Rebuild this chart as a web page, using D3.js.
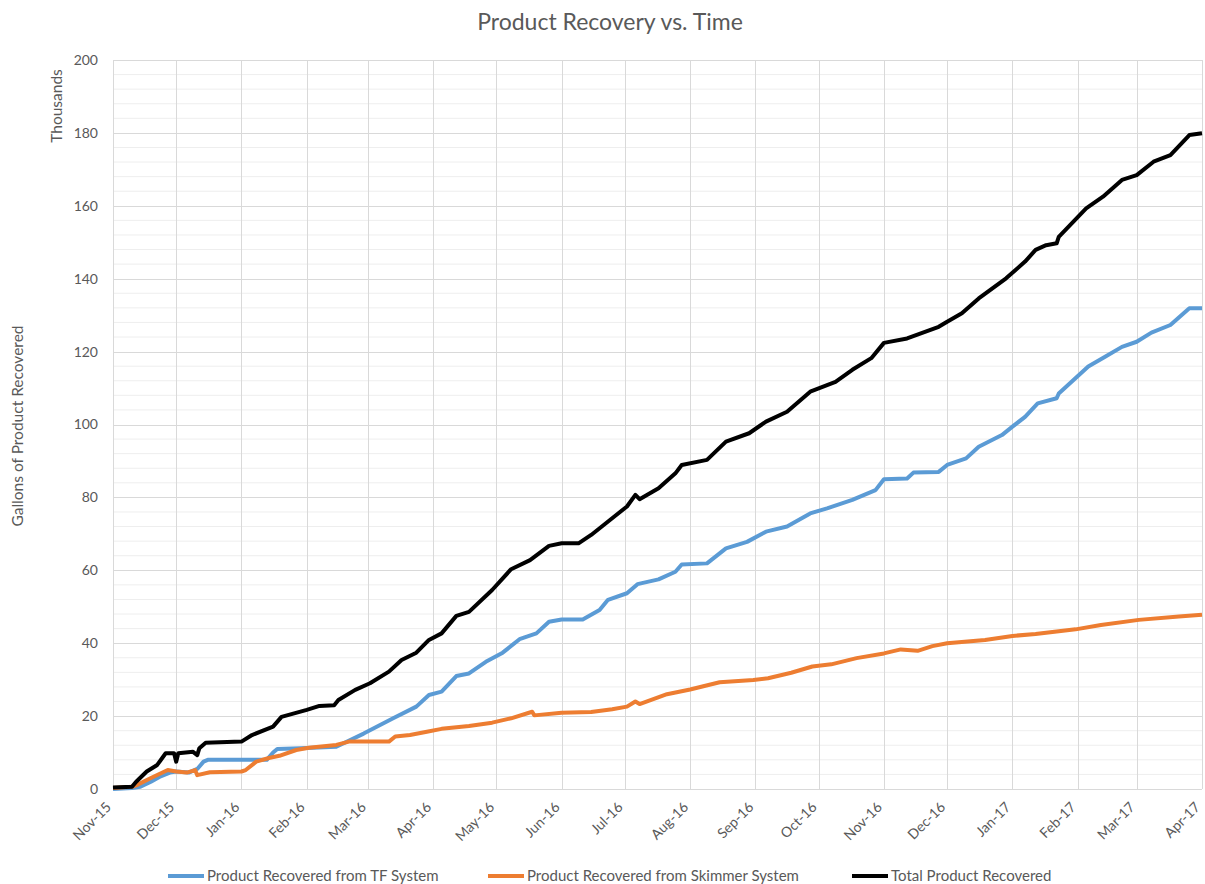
<!DOCTYPE html>
<html><head><meta charset="utf-8">
<script src="https://cdn.jsdelivr.net/npm/d3@7"></script>
<style>
body{margin:0;background:#fff}
svg{display:block}
text{font-family:Lato,"Open Sans",sans-serif;fill:#595959}
</style>
</head><body>
<svg id="chart" width="1205" height="884"></svg>
<script>
const chartTitle = "Product Recovery vs. Time";
const yAxisTitle = "Gallons of Product Recovered";
const yUnitLabel = "Thousands";
const yTicks = [0, 20, 40, 60, 80, 100, 120, 140, 160, 180, 200];
const monthTicks = ["2015-11-01","2015-12-01","2016-01-01","2016-02-01","2016-03-01","2016-04-01","2016-05-01","2016-06-01","2016-07-01","2016-08-01","2016-09-01","2016-10-01","2016-11-01","2016-12-01","2017-01-01","2017-02-01","2017-03-01","2017-04-01"];
const seriesNames = ["Product Recovered from TF System", "Product Recovered from Skimmer System", "Total Product Recovered"];
const seriesColors = ["#5B9BD5", "#ED7D31", "#000000"];

// values in thousands of gallons
const tfSystem = [
["2015-11-01",0],["2015-11-10",0.3],["2015-11-14",0.6],["2015-11-19",2],["2015-11-23",3.3],["2015-11-28",4.5],
["2015-12-01",4.8],["2015-12-07",4.5],["2015-12-11",5.5],["2015-12-14",7.5],["2015-12-16",8],["2016-01-13",8],
["2016-01-16",10],["2016-01-18",11],["2016-01-29",11.2],["2016-02-15",11.6],["2016-02-28",15.2],["2016-03-13",19.4],
["2016-03-24",22.6],["2016-03-30",25.8],["2016-04-05",26.7],["2016-04-12",31],["2016-04-18",31.7],["2016-04-26",34.9],
["2016-05-04",37.4],["2016-05-12",41.1],["2016-05-20",42.7],["2016-05-26",45.9],["2016-06-01",46.5],["2016-06-11",46.5],
["2016-06-19",49.1],["2016-06-23",51.9],["2016-07-02",53.7],["2016-07-07",56.2],["2016-07-17",57.5],["2016-07-25",59.6],
["2016-07-28",61.6],["2016-08-09",61.9],["2016-08-18",66],["2016-08-28",67.8],["2016-09-06",70.6],["2016-09-16",72],
["2016-09-27",75.6],["2016-10-05",77],["2016-10-17",79.3],["2016-10-28",82],["2016-11-01",85],["2016-11-12",85.2],
["2016-11-15",86.8],["2016-11-27",87],["2016-12-01",88.9],["2016-12-10",90.7],["2016-12-16",93.9],["2016-12-27",97.1],
["2017-01-01",99.4],["2017-01-07",102.1],["2017-01-13",105.8],["2017-01-22",107.2],["2017-01-23",108.5],["2017-02-06",115.9],
["2017-02-14",118.6],["2017-02-22",121.3],["2017-03-01",122.7],["2017-03-08",125.2],["2017-03-17",127.3],["2017-03-26",131.9],
["2017-04-01",131.9]
];
const skimmerSystem = [
["2015-11-01",0.3],["2015-11-10",0.6],["2015-11-12",1],["2015-11-19",3],["2015-11-27",5.2],["2015-12-01",4.8],
["2015-12-06",4.5],["2015-12-10",5.2],["2015-12-11",3.8],["2015-12-17",4.6],["2016-01-01",4.8],["2016-01-03",5.2],
["2016-01-08",7.5],["2016-01-14",8.5],["2016-01-19",9.1],["2016-01-27",10.7],["2016-02-02",11.3],["2016-02-15",12.1],
["2016-02-21",13],["2016-03-11",13],["2016-03-14",14.4],["2016-03-21",14.8],["2016-03-29",15.7],["2016-04-05",16.5],
["2016-04-18",17.3],["2016-04-29",18.2],["2016-05-08",19.4],["2016-05-18",21.2],["2016-05-19",20.2],["2016-06-01",20.9],
["2016-06-15",21.1],["2016-06-25",21.9],["2016-07-02",22.6],["2016-07-06",24],["2016-07-08",23.3],["2016-07-21",26],
["2016-08-01",27.3],["2016-08-15",29.3],["2016-08-31",29.9],["2016-09-07",30.4],["2016-09-18",31.9],["2016-09-28",33.6],
["2016-10-07",34.2],["2016-10-19",35.9],["2016-11-01",37.2],["2016-11-09",38.3],["2016-11-17",37.9],["2016-11-24",39.2],
["2016-12-01",40],["2016-12-19",40.9],["2017-01-01",42],["2017-01-12",42.5],["2017-01-31",43.8],["2017-02-12",45],
["2017-03-02",46.4],["2017-03-21",47.3],["2017-04-01",47.8]
];
const totalRecovered = [
["2015-11-01",0.4],["2015-11-10",0.6],["2015-11-12",2],["2015-11-17",4.8],["2015-11-22",6.6],["2015-11-26",9.8],
["2015-11-30",9.8],["2015-12-01",7.5],["2015-12-02",9.8],["2015-12-09",10.2],["2015-12-11",9.3],["2015-12-12",11.2],
["2015-12-15",12.7],["2016-01-01",13],["2016-01-06",14.8],["2016-01-16",17.1],["2016-01-20",19.8],["2016-02-01",21.7],
["2016-02-07",22.8],["2016-02-14",23],["2016-02-16",24.4],["2016-02-24",27.2],["2016-03-02",29],["2016-03-11",32.2],
["2016-03-17",35.4],["2016-03-24",37.4],["2016-03-30",40.9],["2016-04-05",42.7],["2016-04-12",47.5],["2016-04-18",48.6],
["2016-04-29",54.6],["2016-05-08",60.3],["2016-05-17",62.8],["2016-05-26",66.7],["2016-06-01",67.4],["2016-06-09",67.4],
["2016-06-15",69.7],["2016-06-22",72.9],["2016-07-02",77.5],["2016-07-06",80.7],["2016-07-08",79.5],["2016-07-17",82.5],
["2016-07-25",86.6],["2016-07-28",88.9],["2016-08-09",90.3],["2016-08-18",95.3],["2016-08-29",97.6],["2016-09-06",100.8],
["2016-09-16",103.5],["2016-09-27",109],["2016-10-09",111.7],["2016-10-17",115],["2016-10-26",118.2],["2016-11-01",122.4],
["2016-11-12",123.6],["2016-11-27",126.8],["2016-12-01",128.2],["2016-12-08",130.5],["2016-12-16",134.6],["2016-12-29",140.1],
["2017-01-07",144.7],["2017-01-12",147.9],["2017-01-17",149.2],["2017-01-22",149.7],["2017-01-23",151.5],["2017-02-05",159.3],
["2017-02-13",162.5],["2017-02-22",167.1],["2017-03-01",168.4],["2017-03-09",172.1],["2017-03-17",173.9],["2017-03-26",179.4],
["2017-04-01",179.9]
];

const parse = d3.timeParse("%Y-%m-%d");
const svg = d3.select("#chart");
const plotLeft = 113, plotRight = 1202, plotTop = 60, plotBottom = 789;

const x = d3.scaleTime()
  .domain([parse(monthTicks[0]), parse(monthTicks[monthTicks.length - 1])])
  .range([plotLeft, plotRight]);
const y = d3.scaleLinear().domain([0, 200]).range([plotBottom, plotTop]);

// minor horizontal gridlines
const minor = d3.range(4, 200, 4).filter(v => v % 20 !== 0);
svg.append("g").selectAll("line").data(minor).join("line")
  .attr("x1", plotLeft).attr("x2", plotRight)
  .attr("y1", d => y(d)).attr("y2", d => y(d))
  .attr("stroke", "#eeeeee").attr("stroke-width", 1);

// major horizontal gridlines
svg.append("g").selectAll("line").data(yTicks).join("line")
  .attr("x1", plotLeft).attr("x2", plotRight)
  .attr("y1", d => Math.round(y(d)) + 0.5).attr("y2", d => Math.round(y(d)) + 0.5)
  .attr("stroke", "#d9d9d9").attr("stroke-width", 1);

// vertical gridlines at months
const months = monthTicks.map(parse);
svg.append("g").selectAll("line").data(months).join("line")
  .attr("x1", d => Math.round(x(d)) + 0.5).attr("x2", d => Math.round(x(d)) + 0.5)
  .attr("y1", plotTop).attr("y2", plotBottom)
  .attr("stroke", "#d9d9d9").attr("stroke-width", 1);

// y tick labels
svg.append("g").selectAll("text").data(yTicks).join("text")
  .attr("x", 98).attr("y", d => y(d)).attr("dy", "0.35em")
  .attr("text-anchor", "end").attr("font-size", 14)
  .text(d => d);

// x tick labels
const fmt = d3.timeFormat("%b-%y");
svg.append("g").selectAll("text").data(months).join("text")
  .attr("text-anchor", "end").attr("font-size", 14)
  .attr("transform", d => `translate(${x(d) - 1},${plotBottom + 19}) rotate(-45)`)
  .text(d => fmt(d));

// titles
svg.append("text").attr("x", 610).attr("y", 30).attr("text-anchor", "middle")
  .attr("font-size", 23).text(chartTitle);
svg.append("text").attr("transform", "translate(62,106) rotate(-90)")
  .attr("text-anchor", "middle").attr("font-size", 15.5).text(yUnitLabel);
svg.append("text").attr("transform", "translate(23,426) rotate(-90)")
  .attr("text-anchor", "middle").attr("font-size", 15.5).text(yAxisTitle);

// series
const series = [tfSystem, skimmerSystem, totalRecovered];
const line = d3.line().x(d => x(parse(d[0]))).y(d => y(d[1]));
svg.append("g").selectAll("path").data(series).join("path")
  .attr("d", d => line(d))
  .attr("fill", "none")
  .attr("stroke", (d, i) => seriesColors[i])
  .attr("stroke-width", 4)
  .attr("stroke-linejoin", "round")
  .attr("stroke-linecap", "butt");

// legend
const legendX = [168, 488, 852];
const lg = svg.append("g").selectAll("g").data(seriesNames).join("g")
  .attr("transform", (d, i) => `translate(${legendX[i]},876)`);
lg.append("line").attr("x1", 0).attr("x2", 36).attr("y1", 0).attr("y2", 0)
  .attr("stroke", (d, i) => seriesColors[i]).attr("stroke-width", 4);
lg.append("text").attr("x", 39).attr("y", 0).attr("dy", "0.35em")
  .attr("font-size", 15).text(d => d);
</script>
</body></html>
